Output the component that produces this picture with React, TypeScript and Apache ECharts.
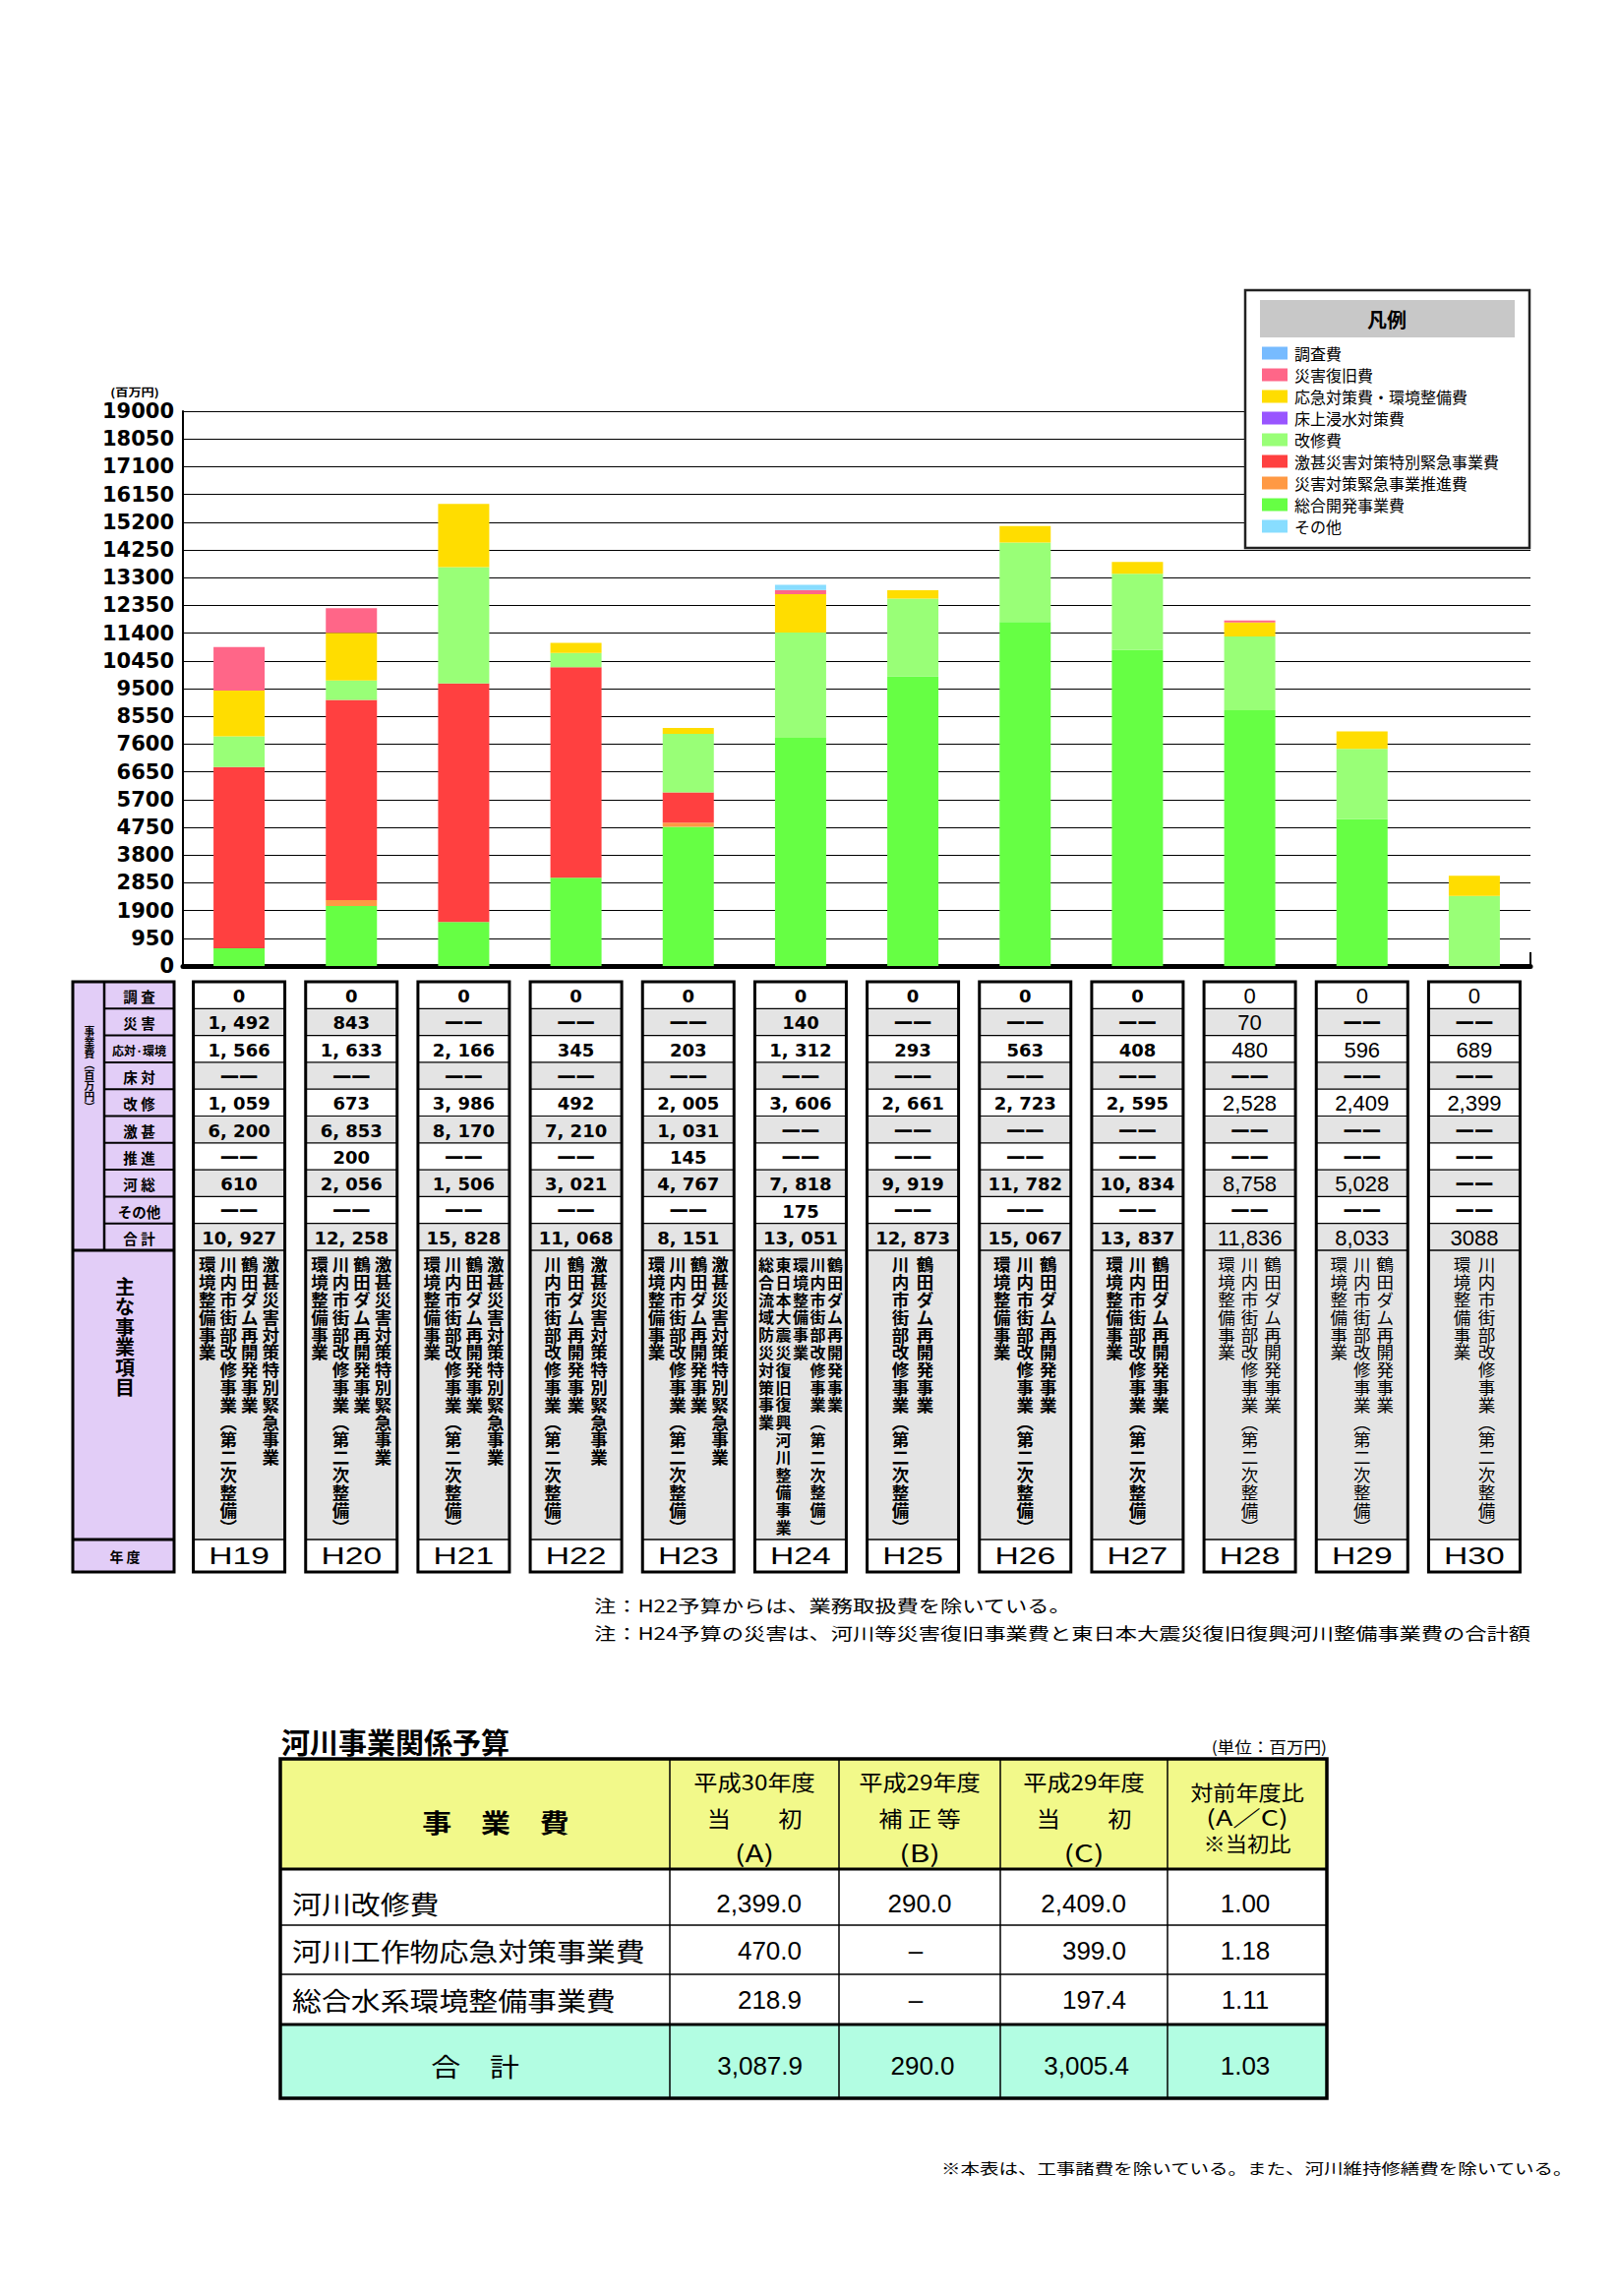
import React, { useEffect, useRef } from 'react';
import * as echarts from 'echarts';

// ---------------- data ----------------
const years = ['H19', 'H20', 'H21', 'H22', 'H23', 'H24', 'H25', 'H26', 'H27', 'H28', 'H29', 'H30'];
const chousaHi = [0, 0, 0, 0, 0, 0, 0, 0, 0, 0, 0, 0];
const saigaiHi = [1492, 843, null, null, null, 140, null, null, null, 70, null, null];
const outaiHi = [1566, 1633, 2166, 345, 203, 1312, 293, 563, 408, 480, 596, 689];
const yukaueHi = [null, null, null, null, null, null, null, null, null, null, null, null];
const kaishuHi = [1059, 673, 3986, 492, 2005, 3606, 2661, 2723, 2595, 2528, 2409, 2399];
const gekijinHi = [6200, 6853, 8170, 7210, 1031, null, null, null, null, null, null, null];
const suishinHi = [null, 200, null, null, 145, null, null, null, null, null, null, null];
const kasouHi = [610, 2056, 1506, 3021, 4767, 7818, 9919, 11782, 10834, 8758, 5028, null];
const sonotaHi = [null, null, null, null, null, 175, null, null, null, null, null, null];
const totalLabels = ['10, 927', '12, 258', '15, 828', '11, 068', '8, 151', '13, 051', '12, 873', '15, 067', '13, 837', '11,836', '8,033', '3088'];
const boldYears = [true, true, true, true, true, true, true, true, true, false, false, false];

const yMin = 0;
const yMax = 19000;
const yStep = 950;

const rowLabels = ['調 査', '災 害', '応対·環境', '床 対', '改 修', '激 甚', '推 進', '河 総', 'その他', '合 計'];

const GEKI = '激甚災害対策特別緊急事業';
const TSURU = '鶴田ダム再開発事業';
const SENDAI = '川内市街部改修事業（第二次整備）';
const KANKYO = '環境整備事業';
const projects = [
  [GEKI, TSURU, SENDAI, KANKYO],
  [GEKI, TSURU, SENDAI, KANKYO],
  [GEKI, TSURU, SENDAI, KANKYO],
  [GEKI, TSURU, SENDAI],
  [GEKI, TSURU, SENDAI, KANKYO],
  [TSURU, SENDAI, KANKYO, '東日本大震災復旧復興河川整備事業', '総合流域防災対策事業'],
  [TSURU, SENDAI],
  [TSURU, SENDAI, KANKYO],
  [TSURU, SENDAI, KANKYO],
  [TSURU, SENDAI, KANKYO],
  [TSURU, SENDAI, KANKYO],
  [SENDAI, KANKYO],
];

const legendOrder = ['調査費', '災害復旧費', '応急対策費・環境整備費', '床上浸水対策費', '改修費', '激甚災害対策特別緊急事業費', '災害対策緊急事業推進費', '総合開発事業費', 'その他'];

// bottom budget table
const budgetItems = ['河川改修費', '河川工作物応急対策事業費', '総合水系環境整備事業費'];
const budgetA = [2399.0, 470.0, 218.9];
const budgetB = [290.0, null, null];
const budgetC = [2409.0, 399.0, 197.4];
const budgetRatio = [1.0, 1.18, 1.11];
const budgetTotal = [3087.9, 290.0, 3005.4, 1.03];
const budgetHeaders = [
  ['平成30年度', '当　　初', '(A)'],
  ['平成29年度', '補 正 等', '(B)'],
  ['平成29年度', '当　　初', '(C)'],
  ['対前年度比', '(A／C)', '※当初比'],
];

// ---------------- styles ----------------
const JP = "'Noto Sans CJK JP', 'Noto Sans', sans-serif";
const SANS = "'Liberation Sans', Arial, sans-serif";
const DV = "'DejaVu Sans', sans-serif";
const GRAY = '#e4e4e4';
const LAV = '#e2cdf7';

const seriesDefs = [
  { name: '総合開発事業費', data: kasouHi, color: '#66ff44' },
  { name: '災害対策緊急事業推進費', data: suishinHi, color: '#ff9944' },
  { name: '激甚災害対策特別緊急事業費', data: gekijinHi, color: '#ff4040' },
  { name: '床上浸水対策費', data: yukaueHi, color: '#9955ff' },
  { name: '改修費', data: kaishuHi, color: '#99ff77' },
  { name: '応急対策費・環境整備費', data: outaiHi, color: '#ffdd00' },
  { name: '災害復旧費', data: saigaiHi, color: '#ff6688' },
  { name: '調査費', data: chousaHi, color: '#77bbff' },
  { name: 'その他', data: sonotaHi, color: '#88ddff' },
];

function addCommas(s: string, sep: string) {
  const [a, b] = s.split('.');
  const ia = a.replace(/\B(?=(\d{3})+(?!\d))/g, sep);
  return b !== undefined ? ia + '.' + b : ia;
}

type TO = { size?: number; w?: string; fam?: string; sx?: number; al?: string; va?: string; lh?: number; fill?: string; z?: number };
function T(x: number, y: number, text: string, o: TO = {}) {
  const al = o.al ?? 'center';
  const va = o.va ?? 'middle';
  const style: any = {
    text,
    fontSize: o.size ?? 14,
    fontFamily: o.fam ?? JP,
    fontWeight: o.w ?? 'normal',
    fill: o.fill ?? '#000',
    textAlign: al,
    textVerticalAlign: va,
    align: al,
    verticalAlign: va,
  };
  if (o.lh) style.lineHeight = o.lh;
  return { type: 'text', x, y, z: o.z ?? 20, scaleX: o.sx ?? 1, silent: true, style };
}
function R(x: number, y: number, w: number, h: number, fill: string, stroke?: string, lw?: number, z?: number) {
  return {
    type: 'rect', z: z ?? 2, silent: true,
    shape: { x, y, width: w, height: h },
    style: { fill, stroke: stroke ?? null, lineWidth: lw ?? 0 },
  };
}
function L(x1: number, y1: number, x2: number, y2: number, lw: number, z?: number) {
  return { type: 'line', z: z ?? 3, silent: true, shape: { x1, y1, x2, y2 }, style: { stroke: '#000', lineWidth: lw } };
}
function vert(s: string) {
  return Array.from(s).map((c) => (c === '（' ? '︵' : c === '）' ? '︶' : c)).join('\n');
}

function buildBase() {
  return {
    animation: false,
    backgroundColor: '#ffffff',
    grid: { left: 186, top: 418, width: 1370, height: 564, containLabel: false },
    legend: {
      show: true, orient: 'vertical', left: 1283, top: 351, itemWidth: 26, itemHeight: 13, itemGap: 6,
      padding: 0, selectedMode: false, z: 10, icon: 'rect', data: legendOrder,
      textStyle: { fontSize: 16, fontFamily: JP, color: '#000', padding: [0, 0, 0, 2] },
    },
    xAxis: {
      type: 'category', data: years,
      axisLine: { show: true, lineStyle: { color: '#000', width: 5 } },
      axisTick: { show: false }, axisLabel: { show: false }, splitLine: { show: false },
    },
    yAxis: {
      type: 'value', min: yMin, max: yMax, interval: yStep,
      axisLine: { show: true, lineStyle: { color: '#000', width: 2 } },
      axisTick: { show: false },
      axisLabel: { formatter: (v: number) => String(v), fontFamily: DV, fontWeight: 'bold', fontSize: 21, color: '#000', margin: 9 },
      splitLine: { show: true, lineStyle: { color: '#000', width: 1.2 } },
    },
    series: seriesDefs.map((s) => ({
      type: 'bar', name: s.name, stack: 'total', data: s.data, barWidth: 52,
      itemStyle: { color: s.color }, emphasis: { disabled: true }, z: 3,
    })),
  };
}

function buildGraphics(cx: number[]) {
  const els: any[] = [];
  // axis unit
  els.push(T(137, 398, '(百万円)', { size: 11, w: 'bold', sx: 1.2 }));
  els.push(L(1556, 968, 1556, 982, 2));

  // legend box
  els.push(R(1266, 295, 289, 262, '#fff', '#222', 2.5, 5));
  els.push(R(1281, 305, 259, 38, '#c8c8c8', undefined, 0, 6));
  els.push(T(1410, 324, '凡例', { size: 20, w: 'bold' }));

  // ---------- upper table ----------
  const T0 = 998;
  const RH = 27.3;
  const mainTop = T0 + RH * 10;
  const mainBot = 1565;
  const tblBot = 1598;

  // label column
  els.push(R(74, T0, 103, tblBot - T0, LAV, undefined, 0, 1));
  els.push(L(106, T0, 106, mainTop, 2.5));
  for (let r = 1; r < 10; r++) els.push(L(106, T0 + r * RH, 177, T0 + r * RH, 2));
  els.push(L(74, mainTop, 177, mainTop, 3));
  els.push(L(74, mainBot, 177, mainBot, 3));
  els.push(R(74, T0, 103, tblBot - T0, 'none', '#000', 3, 4));
  rowLabels.forEach((lab, r) => {
    els.push(T(141.5, T0 + r * RH + RH / 2 + 1, lab, { size: lab.length > 4 ? 12 : 14.5, w: 'bold' }));
  });
  els.push(T(91, 1042, vert('事業費（百万円）'), { size: 10.8, w: 'bold', va: 'top', lh: 11 }));
  els.push(T(127, 1297, vert('主な事業項目'), { size: 20, w: 'bold', va: 'top', lh: 20.5 }));
  els.push(T(127, 1582, '年 度', { size: 14, w: 'bold' }));

  const rowsData = [chousaHi, saigaiHi, outaiHi, yukaueHi, kaishuHi, gekijinHi, suishinHi, kasouHi, sonotaHi];
  years.forEach((yr, i) => {
    const c = cx[i];
    const x0 = c - 46.5;
    const bold = boldYears[i];
    for (let r = 0; r < 10; r++) els.push(R(x0, T0 + r * RH, 93, RH, r % 2 ? GRAY : '#fff', undefined, 0, 1));
    els.push(R(x0, mainTop, 93, mainBot - mainTop, GRAY, undefined, 0, 1));
    els.push(R(x0, mainBot, 93, tblBot - mainBot, '#fff', undefined, 0, 1));
    for (let r = 1; r < 10; r++) els.push(L(x0, T0 + r * RH, x0 + 93, T0 + r * RH, 1.2));
    els.push(L(x0, mainTop, x0 + 93, mainTop, 1.5));
    els.push(L(x0, mainBot, x0 + 93, mainBot, 1.5));
    els.push(R(x0, T0, 93, tblBot - T0, 'none', '#000', 3, 4));

    for (let r = 0; r < 10; r++) {
      const y = T0 + r * RH + RH / 2 + 1;
      let txt: string | null;
      if (r < 9) {
        const v = rowsData[r][i];
        txt = v == null ? null : addCommas(String(v), bold ? ', ' : ',');
      } else {
        txt = totalLabels[i];
      }
      if (txt == null) {
        els.push(T(c, y - 1, '——', { size: 22, w: 'bold', fam: DV, sx: 0.88 }));
      } else if (bold) {
        els.push(T(c, y, txt, { size: 18, w: 'bold', fam: DV }));
      } else {
        els.push(T(c, y, txt, { size: 22, fam: SANS }));
      }
    }

    const cols = projects[i];
    const n = cols.length;
    const sp = n >= 5 ? 17.5 : n === 4 ? 21.5 : n === 3 ? 23.5 : 25;
    cols.forEach((p, j) => {
      const x = c + ((n - 1) / 2 - j) * sp;
      els.push(T(x, 1276, vert(p), { size: n >= 5 ? 16 : 17.5, w: bold ? 'bold' : 'normal', va: 'top', lh: 17.8 }));
    });
    els.push(T(c, 1582, yr, { size: 24, fam: SANS, sx: 1.4 }));
  });

  // notes
  els.push(T(604, 1632, '注：H22予算からは、業務取扱費を除いている。', { size: 17.5, sx: 1.27, al: 'left' }));
  els.push(T(604, 1660, '注：H24予算の災害は、河川等災害復旧事業費と東日本大震災復旧復興河川整備事業費の合計額', { size: 17.5, sx: 1.27, al: 'left' }));

  // ---------- budget table ----------
  const colX = [285, 681, 853, 1017, 1187, 1349];
  const rowY = [1788, 1900, 1957, 2007, 2058, 2133];
  els.push(T(286, 1770, '河川事業関係予算', { size: 29, w: 'bold', al: 'left' }));
  els.push(T(1349, 1775, '(単位：百万円)', { size: 16, sx: 1.1, al: 'right' }));
  els.push(R(colX[0], rowY[0], colX[5] - colX[0], rowY[1] - rowY[0], '#f2f98a', undefined, 0, 1));
  els.push(R(colX[0], rowY[1], colX[5] - colX[0], rowY[4] - rowY[1], '#ffffff', undefined, 0, 1));
  els.push(R(colX[0], rowY[4], colX[5] - colX[0], rowY[5] - rowY[4], '#b2fde2', undefined, 0, 1));
  for (let k = 1; k < 5; k++) els.push(L(colX[k], rowY[0], colX[k], rowY[5], 1.5));
  els.push(L(colX[0], rowY[1], colX[5], rowY[1], 3));
  els.push(L(colX[0], rowY[2], colX[5], rowY[2], 1.5));
  els.push(L(colX[0], rowY[3], colX[5], rowY[3], 1.5));
  els.push(L(colX[0], rowY[4], colX[5], rowY[4], 3));
  els.push(R(colX[0], rowY[0], colX[5] - colX[0], rowY[5] - rowY[0], 'none', '#000', 3.5, 4));

  els.push(T(504, 1852, '事　業　費', { size: 26, w: 'bold', sx: 1.15 }));
  const hc = [767, 935, 1102, 1268];
  budgetHeaders.forEach((h, k) => {
    if (k < 3) {
      els.push(T(hc[k], 1810, h[0], { size: 22, sx: 1.1 }));
      els.push(T(hc[k], 1847, h[1], { size: 22, sx: 1.1 }));
      els.push(T(hc[k], 1883, h[2], { size: 24, sx: 1.3 }));
    } else {
      els.push(T(hc[k], 1820, h[0], { size: 21, sx: 1.1 }));
      els.push(T(hc[k], 1846, h[1], { size: 22, sx: 1.3 }));
      els.push(T(hc[k], 1873, h[2], { size: 21, sx: 1.06 }));
    }
  });

  const rowCenters = [1935, 1983, 2033];
  const f1 = (v: number) => addCommas(v.toFixed(1), ',');
  budgetItems.forEach((name, r) => {
    const y = rowCenters[r];
    els.push(T(297, y, name, { size: 26, sx: 1.15, al: 'left' }));
    els.push(T(815, y, f1(budgetA[r]), { size: 26, fam: SANS, al: 'right' }));
    const b = budgetB[r];
    els.push(T(b == null ? 931 : 935, y, b == null ? '–' : f1(b), { size: 26, fam: SANS }));
    els.push(T(1145, y, f1(budgetC[r]), { size: 26, fam: SANS, al: 'right' }));
    els.push(T(1266, y, budgetRatio[r].toFixed(2), { size: 26, fam: SANS }));
  });
  els.push(T(483, 2100, '合　計', { size: 26, sx: 1.15 }));
  els.push(T(816, 2100, f1(budgetTotal[0]), { size: 26, fam: SANS, al: 'right' }));
  els.push(T(938, 2100, f1(budgetTotal[1]), { size: 26, fam: SANS }));
  els.push(T(1148, 2100, f1(budgetTotal[2]), { size: 26, fam: SANS, al: 'right' }));
  els.push(T(1266, 2100, budgetTotal[3].toFixed(2), { size: 26, fam: SANS }));

  els.push(T(957, 2204, '※本表は、工事諸費を除いている。また、河川維持修繕費を除いている。', { size: 15, sx: 1.3, al: 'left' }));
  return els;
}

export default function App() {
  const ref = useRef<HTMLDivElement>(null);
  useEffect(() => {
    const el = ref.current;
    if (!el) return;
    const chart = echarts.init(el, null, { renderer: 'svg' });
    chart.setOption(buildBase() as any);
    const cx = years.map((y) => chart.convertToPixel({ xAxisIndex: 0 }, y) as number);
    chart.setOption({ graphic: { elements: buildGraphics(cx) } } as any);
    return () => chart.dispose();
  }, []);
  return (
    <div
      ref={ref}
      style={{ position: 'absolute', left: 0, top: 0, width: 1645, height: 2334, background: '#fff' }}
    />
  );
}
